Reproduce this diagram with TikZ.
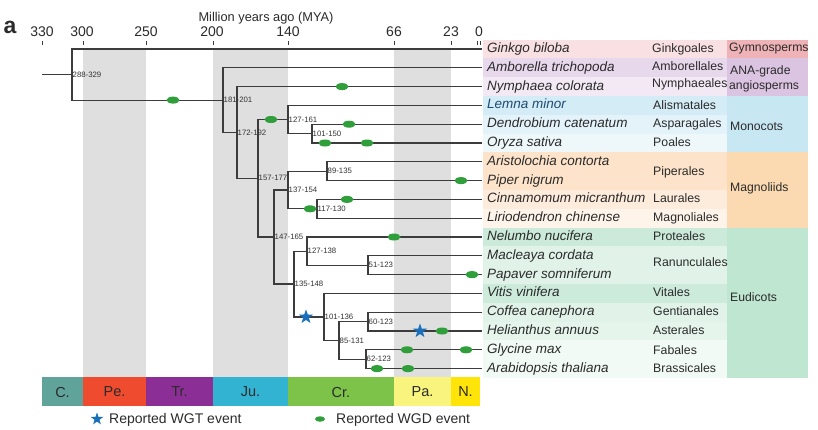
\documentclass[tikz,border=0pt]{standalone}
\usepackage{fontspec}
\setmainfont{Liberation Sans}
\usetikzlibrary{shapes.geometric}
\definecolor{branch}{HTML}{3C3C3C}
\definecolor{txt}{HTML}{2B2B2B}
\definecolor{labgray}{HTML}{333333}
\definecolor{bandgray}{HTML}{DFDFDF}
\definecolor{wgdgreen}{HTML}{2F9E3B}
\definecolor{wgtblue}{HTML}{1A6FBA}
\definecolor{lemnablue}{HTML}{1F4A73}
\definecolor{rGink}{HTML}{F9E0E2}\definecolor{gGym}{HTML}{EFB3B7}
\definecolor{rAmb}{HTML}{E8D8EC}\definecolor{rNym}{HTML}{F2E9F4}\definecolor{gANA}{HTML}{DBC4E1}
\definecolor{rLem}{HTML}{D4ECF6}\definecolor{rDen}{HTML}{E3F3F9}\definecolor{rOry}{HTML}{EEF8FB}\definecolor{gMon}{HTML}{C7E7F3}
\definecolor{rAri}{HTML}{FCE3C9}\definecolor{rCin}{HTML}{FDEBDB}\definecolor{rLir}{HTML}{FEF4EA}\definecolor{gMag}{HTML}{FBDAB2}
\definecolor{rNel}{HTML}{CBEAD9}\definecolor{rMac}{HTML}{E1F3E9}\definecolor{rVit}{HTML}{CDEBDB}\definecolor{rCof}{HTML}{E1F3E9}\definecolor{rHel}{HTML}{E6F5EC}\definecolor{rGly}{HTML}{F1FAF5}\definecolor{gEud}{HTML}{BEE6D0}
\definecolor{pC}{HTML}{5FA39A}\definecolor{pPe}{HTML}{EF4B2F}\definecolor{pTr}{HTML}{8B2E96}\definecolor{pJu}{HTML}{33B3D2}\definecolor{pCr}{HTML}{7DC34A}\definecolor{pPa}{HTML}{F8F47D}\definecolor{pN}{HTML}{FFE40A}
\tikzset{
  br/.style={draw=branch, line width=1.2pt},
  wgd/.style={ellipse, fill=wgdgreen, minimum width=13pt, minimum height=7pt, inner sep=0pt},
  wgt/.style={star, star points=5, star point ratio=2.5, fill=wgtblue, minimum size=15pt, inner sep=0pt},
  nlab/.style={anchor=west, font=\fontsize{7.8}{8}\selectfont, text=labgray, inner sep=0.5pt},
  sp/.style={anchor=west, font=\fontsize{13.5}{14}\selectfont\itshape, text=txt, inner sep=0pt, text height=9.7pt, text depth=2.8pt},
  ord/.style={anchor=west, font=\fontsize{12.3}{13}\selectfont, text=txt, inner sep=0pt, text height=8.8pt, text depth=2.6pt},
  grp/.style={anchor=west, font=\fontsize{12.2}{13}\selectfont, text=txt, inner sep=0pt, text height=8.8pt, text depth=2.6pt},
  axnum/.style={font=\fontsize{14}{15}\selectfont, text=txt, inner sep=0pt},
  tickline/.style={draw=branch, line width=0.8pt},
  barlab/.style={font=\fontsize{14.5}{15}\selectfont, text=txt, inner sep=0pt},
  leg/.style={anchor=west, font=\fontsize{14}{15}\selectfont, text=txt, inner sep=0pt},
}
\begin{document}
\begin{tikzpicture}[x=1pt,y=-1pt]
\useasboundingbox (0,0) rectangle (818,429);
\fill[white] (0,0) rectangle (818,429);
% grey period bands
\fill[bandgray] (83,48) rectangle (146,377);
\fill[bandgray] (213,48) rectangle (288,377);
\fill[bandgray] (394,48) rectangle (451,377);
% table rows
\fill[rGink] (483,39.6) rectangle (727,58.4);
\fill[rAmb] (483,58.4) rectangle (727,77.2);
\fill[rNym] (483,77.2) rectangle (727,96.0);
\fill[rLem] (483,96.0) rectangle (727,114.8);
\fill[rDen] (483,114.8) rectangle (727,133.6);
\fill[rOry] (483,133.6) rectangle (727,152.4);
\fill[rAri] (483,152.4) rectangle (727,190.0);
\fill[rCin] (483,190.0) rectangle (727,208.8);
\fill[rLir] (483,208.8) rectangle (727,227.6);
\fill[rNel] (483,227.6) rectangle (727,246.4);
\fill[rMac] (483,246.4) rectangle (727,284.0);
\fill[rVit] (483,284.0) rectangle (727,302.8);
\fill[rCof] (483,302.8) rectangle (727,321.6);
\fill[rHel] (483,321.6) rectangle (727,340.4);
\fill[rGly] (483,340.4) rectangle (727,378.0);
% group cells
\fill[gGym] (727,39.6) rectangle (808,58.4);
\fill[gANA] (727,58.4) rectangle (808,96.0);
\fill[gMon] (727,96.0) rectangle (808,152.4);
\fill[gMag] (727,152.4) rectangle (808,227.6);
\fill[gEud] (727,227.6) rectangle (808,378.0);
% panel letter and axis
\node[font=\fontsize{23}{24}\selectfont\bfseries, text=txt, inner sep=0pt] (panel) at (10,27) {a};
\node[font=\fontsize{12.8}{13}\selectfont, text=txt, inner sep=0pt] (axtitle) at (266,18) {Million years ago (MYA)};
\foreach \xx/\lab in {42/330, 82/300, 146/250, 212/200, 288/140, 394/66, 451/23, 479/0}{
  \node[axnum] (ax\lab) at (\xx,32) {\lab};
}
\foreach \xx in {42,83,146,213,288,394,451,477,480}{
  \draw[tickline] (\xx,41) -- (\xx,45);
}
% tips
\coordinate (t0) at (482,49.0);
\coordinate (t1) at (482,67.8);
\coordinate (t2) at (482,86.6);
\coordinate (t3) at (482,105.4);
\coordinate (t4) at (482,124.2);
\coordinate (t5) at (482,143.0);
\coordinate (t6) at (482,161.8);
\coordinate (t7) at (482,180.6);
\coordinate (t8) at (482,199.4);
\coordinate (t9) at (482,218.2);
\coordinate (t10) at (482,237.0);
\coordinate (t11) at (482,255.8);
\coordinate (t12) at (482,274.6);
\coordinate (t13) at (482,293.4);
\coordinate (t14) at (482,312.2);
\coordinate (t15) at (482,331.0);
\coordinate (t16) at (482,349.8);
\coordinate (t17) at (482,368.6);
% internal nodes
\coordinate (stem) at (42,74.55);
\coordinate (root) at (72,74.55);
\coordinate (n181) at (223,100.1);
\coordinate (n172) at (237,132.4);
\coordinate (n157) at (258,178.25);
\coordinate (n127) at (288,119.5);
\coordinate (n101a) at (312,133.6);
\coordinate (n147) at (274,237);
\coordinate (n137) at (288,190);
\coordinate (n89) at (327,171.2);
\coordinate (n117) at (317,208.8);
\coordinate (n135) at (294,284);
\coordinate (n127b) at (307,251.1);
\coordinate (n51) at (368,265.2);
\coordinate (n101b) at (324,316.9);
\coordinate (n85) at (339,340.4);
\coordinate (n60) at (368,321.6);
\coordinate (n62) at (366,359.2);
% branches
\draw[br] (stem) -- (root);
\draw[br] (root) |- (t0);
\draw[br] (root) |- (n181);
\draw[br] (n181) |- (t1);
\draw[br] (n181) |- (n172);
\draw[br] (n172) |- (t2);
\draw[br] (n172) |- (n157);
\draw[br] (n157) |- (n127);
\draw[br] (n157) |- (n147);
\draw[br] (n127) |- (t3);
\draw[br] (n127) |- (n101a);
\draw[br] (n101a) |- (t4);
\draw[br] (n101a) |- (t5);
\draw[br] (n147) |- (n137);
\draw[br] (n147) |- (n135);
\draw[br] (n137) |- (n89);
\draw[br] (n137) |- (n117);
\draw[br] (n89) |- (t6);
\draw[br] (n89) |- (t7);
\draw[br] (n117) |- (t8);
\draw[br] (n117) |- (t9);
\draw[br] (n135) |- (n127b);
\draw[br] (n135) |- (n101b);
\draw[br] (n127b) |- (t10);
\draw[br] (n127b) |- (n51);
\draw[br] (n51) |- (t11);
\draw[br] (n51) |- (t12);
\draw[br] (n101b) |- (t13);
\draw[br] (n101b) |- (n85);
\draw[br] (n85) |- (n60);
\draw[br] (n85) |- (n62);
\draw[br] (n60) |- (t14);
\draw[br] (n60) |- (t15);
\draw[br] (n62) |- (t16);
\draw[br] (n62) |- (t17);
% node labels
\node[nlab] (l1) at (root) {288-329};
\node[nlab] (l2) at (n181) {181-201};
\node[nlab] (l3) at (n172) {172-192};
\node[nlab] (l4) at (n157) {157-177};
\node[nlab] (l5) at (n127) {127-161};
\node[nlab] (l6) at (n101a) {101-150};
\node[nlab] (l7) at (n147) {147-165};
\node[nlab] (l8) at (n137) {137-154};
\node[nlab] (l9) at (n89) {89-135};
\node[nlab] (l10) at (n117) {117-130};
\node[nlab] (l11) at (n135) {135-148};
\node[nlab] (l12) at (n127b) {127-138};
\node[nlab] (l13) at (n51) {51-123};
\node[nlab] (l14) at (n101b) {101-136};
\node[nlab] (l15) at (n85) {85-131};
\node[nlab] (l16) at (n60) {60-123};
\node[nlab] (l17) at (n62) {62-123};
% WGD / WGT events
\node[wgd] (e1) at (173,100.1) {};
\node[wgd] (e2) at (342,86.6) {};
\node[wgd] (e3) at (271,119.5) {};
\node[wgd] (e4) at (349,124.2) {};
\node[wgd] (e5) at (325,143.0) {};
\node[wgd] (e6) at (367,143.0) {};
\node[wgd] (e7) at (461,180.6) {};
\node[wgd] (e8) at (310,208.8) {};
\node[wgd] (e9) at (347,199.4) {};
\node[wgd] (e10) at (394,237.0) {};
\node[wgd] (e11) at (472,274.6) {};
\node[wgd] (e12) at (442,331.0) {};
\node[wgd] (e13) at (407,349.8) {};
\node[wgd] (e14) at (466,349.8) {};
\node[wgd] (e15) at (377,368.6) {};
\node[wgd] (e16) at (408,368.6) {};
\node[wgt] (s1) at (306,316.9) {};
\node[wgt] (s2) at (420,331.0) {};
% species
\node[sp] (sp0) at (487,49.0) {Ginkgo biloba};
\node[sp] (sp1) at (487,67.8) {Amborella trichopoda};
\node[sp] (sp2) at (487,86.6) {Nymphaea colorata};
\node[sp, text=lemnablue] (sp3) at (487,105.4) {Lemna minor};
\node[sp] (sp4) at (487,124.2) {Dendrobium catenatum};
\node[sp] (sp5) at (487,143.0) {Oryza sativa};
\node[sp] (sp6) at (487,161.8) {Aristolochia contorta};
\node[sp] (sp7) at (487,180.6) {Piper nigrum};
\node[sp] (sp8) at (487,199.4) {Cinnamomum micranthum};
\node[sp] (sp9) at (487,218.2) {Liriodendron chinense};
\node[sp] (sp10) at (487,237.0) {Nelumbo nucifera};
\node[sp] (sp11) at (487,255.8) {Macleaya cordata};
\node[sp] (sp12) at (487,274.6) {Papaver somniferum};
\node[sp] (sp13) at (487,293.4) {Vitis vinifera};
\node[sp] (sp14) at (487,312.2) {Coffea canephora};
\node[sp] (sp15) at (487,331.0) {Helianthus annuus};
\node[sp] (sp16) at (487,349.8) {Glycine max};
\node[sp] (sp17) at (487,368.6) {Arabidopsis thaliana};
% orders
\node[ord] (o0) at (652,49) {Ginkgoales};
\node[ord] (o1) at (652,67) {Amborellales};
\node[ord] (o2) at (652,84) {Nymphaeales};
\node[ord] (o3) at (653,106) {Alismatales};
\node[ord] (o4) at (653,124.5) {Asparagales};
\node[ord] (o5) at (653,143.5) {Poales};
\node[ord] (o6) at (653,172) {Piperales};
\node[ord] (o7) at (653,199.5) {Laurales};
\node[ord] (o8) at (653,218.5) {Magnoliales};
\node[ord] (o9) at (653,237) {Proteales};
\node[ord] (o10) at (653,263) {Ranunculales};
\node[ord] (o11) at (653,293) {Vitales};
\node[ord] (o12) at (653,312) {Gentianales};
\node[ord] (o13) at (653,331) {Asterales};
\node[ord] (o14) at (653,351) {Fabales};
\node[ord] (o15) at (653,369) {Brassicales};
% groups
\node[grp] (g1) at (729,48) {Gymnosperms};
\node[grp] (g2) at (730,71) {ANA-grade};
\node[grp] (g3) at (729,86) {angiosperms};
\node[grp] (g4) at (730,127) {Monocots};
\node[grp] (g5) at (730,188) {Magnoliids};
\node[grp] (g6) at (730,298) {Eudicots};
% period bar
\fill[pC] (42,377) rectangle (83,406);
\fill[pPe] (83,377) rectangle (146,406);
\fill[pTr] (146,377) rectangle (213,406);
\fill[pJu] (213,377) rectangle (288,406);
\fill[pCr] (288,377) rectangle (394,406);
\fill[pPa] (394,377) rectangle (451,406);
\fill[pN] (451,377) rectangle (480,406);
\node[barlab] (bC) at (62.5,392) {C.};
\node[barlab] (bPe) at (114.5,392) {Pe.};
\node[barlab] (bTr) at (179.5,392) {Tr.};
\node[barlab] (bJu) at (250.5,392) {Ju.};
\node[barlab] (bCr) at (341,392) {Cr.};
\node[barlab] (bPa) at (422.5,392) {Pa.};
\node[barlab] (bN) at (465.5,392) {N.};
% legend
\node[wgt, minimum size=13pt] (legstar) at (97,419) {};
\node[leg] (legwgt) at (109,419.5) {Reported WGT event};
\node[wgd, minimum width=10pt, minimum height=5.5pt] (legell) at (320,419) {};
\node[leg] (legwgd) at (336,419.5) {Reported WGD event};
\end{tikzpicture}
\end{document}
